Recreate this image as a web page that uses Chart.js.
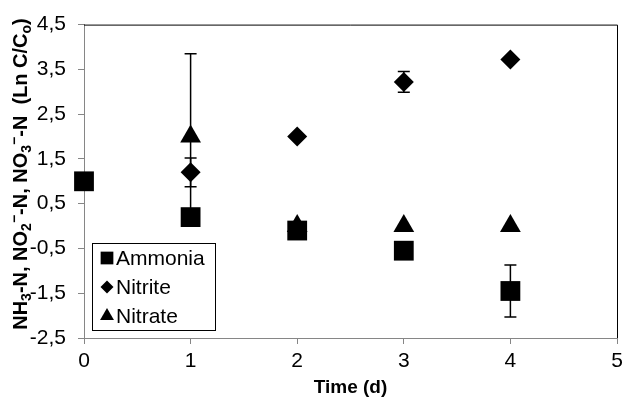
<!DOCTYPE html>
<html>
<head>
<meta charset="utf-8">
<script src="https://cdn.jsdelivr.net/npm/chart.js@4.4.1/dist/chart.umd.min.js"></script>
<style>
  html, body { margin:0; padding:0; background:#fff; }
  #wrap { width:631px; height:412px; }
</style>
</head>
<body>
<div id="wrap"><canvas id="c" width="631" height="412"></canvas></div>
<script>
/* ── DATA ── */
const days      = [0, 1, 2, 3, 4];
const ammonia   = [1.0, 0.2, -0.1, -0.55, -1.45];
const ammoniaSd = [0, 0, 0, 0, 0.58];
const nitrite   = [null, 1.2, 2.0, 3.22, 3.72];
const nitriteSd = [0, 0.32, 0, 0.23, 0];
const nitrate   = [null, 2.0, 0.0, 0.0, 0.0];
const nitrateSd = [0, 1.85, 0, 0, 0];
const xTicks    = [0, 1, 2, 3, 4, 5];
const yTicks    = [-2.5, -1.5, -0.5, 0.5, 1.5, 2.5, 3.5, 4.5];

const FONT = "'Liberation Sans', Arial, sans-serif";
Chart.defaults.font.family = FONT;

function pts(ys, sd) {
  return days.map((d, i) => ({ x:d, y:ys[i], sd:sd[i] })).filter(p => p.y !== null);
}

/* ── ERROR BARS ── */
const errorBars = {
  id: "errorBars",
  beforeDatasetsDraw(chart) {
    const { ctx, scales:{ x, y } } = chart;
    ctx.save(); ctx.strokeStyle = "#000"; ctx.lineWidth = 1.5;
    chart.data.datasets.forEach(ds => ds.data.forEach(p => {
      if (!p.sd) return;
      const px = x.getPixelForValue(p.x), t = y.getPixelForValue(p.y + p.sd), b = y.getPixelForValue(p.y - p.sd);
      ctx.beginPath();
      ctx.moveTo(px, t); ctx.lineTo(px, b);
      ctx.moveTo(px - 6, t); ctx.lineTo(px + 6, t);
      ctx.moveTo(px - 6, b); ctx.lineTo(px + 6, b);
      ctx.stroke();
    }));
    // black frame top + right
    const a = chart.chartArea;
    ctx.lineWidth = 1;
    ctx.beginPath();
    ctx.moveTo(a.left, a.top + 0.5); ctx.lineTo(a.right + 0.5, a.top + 0.5); ctx.lineTo(a.right + 0.5, a.bottom);
    ctx.stroke();
    ctx.restore();
  }
};

/* ── LEGEND (inside plot) ── */
const boxLegend = {
  id: "boxLegend",
  afterDraw(chart) {
    const ctx = chart.ctx;
    ctx.save();
    ctx.fillStyle = "#fff"; ctx.fillRect(92, 243, 123, 87);
    ctx.strokeStyle = "#000"; ctx.lineWidth = 1; ctx.strokeRect(92.5, 243.5, 123, 87);
    const rad = [9, 6.5, 8];
    chart.data.datasets.forEach((ds, i) => {
      const cy = 258 + i * 29;
      ctx.fillStyle = "#000"; ctx.strokeStyle = "#000";
      Chart.helpers.drawPoint(ctx, { pointStyle: ds.pointStyle, radius: rad[i], borderWidth: 0 }, 107, cy);
      ctx.fillStyle = "#000";
      ctx.font = "21px " + FONT; ctx.textBaseline = "middle"; ctx.textAlign = "left";
      ctx.fillText(ds.label, 116, cy + 1);
    });
    ctx.restore();
  }
};

/* ── Y TITLE (sub/superscript) ── */
const yTitle = {
  id: "yTitle",
  afterDraw(chart) {
    const ctx = chart.ctx;
    const parts = [["NH",0],["3",1],["-N, NO",0],["2",1],["\u2212",-1],["-N, NO",0],["3",1],["\u2212",-1],["-N  (Ln C/C",0],["o",1],[")",0]];
    const big = "bold 20px " + FONT, small = "bold 14px " + FONT;
    ctx.save();
    let total = 0;
    parts.forEach(p => { ctx.font = p[1] ? small : big; total += ctx.measureText(p[0]).width; });
    ctx.translate(21, 174); ctx.rotate(-Math.PI / 2);
    ctx.fillStyle = "#000"; ctx.textBaseline = "middle"; ctx.textAlign = "left";
    let cx = -total / 2;
    parts.forEach(p => {
      ctx.font = p[1] ? small : big;
      const dy = p[1] === 1 ? 6 : p[1] === -1 ? -6 : 0;
      ctx.fillText(p[0], cx, dy);
      cx += ctx.measureText(p[0]).width;
    });
    ctx.restore();
  }
};

new Chart(document.getElementById("c"), {
  type: "scatter",
  data: {
    datasets: [
      { label:"Ammonia", data: pts(ammonia, ammoniaSd), pointStyle:"rect",    radius:14, backgroundColor:"#000", borderColor:"#000", borderWidth:0, clip:false },
      { label:"Nitrite", data: pts(nitrite, nitriteSd), pointStyle:"rectRot", radius:10, backgroundColor:"#000", borderColor:"#000", borderWidth:0, clip:false },
      { label:"Nitrate", data: pts(nitrate, nitrateSd), pointStyle:"triangle",radius:12, backgroundColor:"#000", borderColor:"#000", borderWidth:0, clip:false }
    ]
  },
  options: {
    responsive:false, animation:false,
    layout: { padding:{ top:16, right:7, left:0, bottom:0 } },
    plugins: { legend:{ display:false }, tooltip:{ enabled:false } },
    scales: {
      x: { type:"linear", min:0, max:5,
        afterBuildTicks: s => { s.ticks = xTicks.map(v => ({ value:v })); },
        afterFit: s => { s.height = 74; },
        grid: { drawOnChartArea:false, tickLength:6, color:"#868686" },
        border: { color:"#868686" },
        ticks: { color:"#000", font:{ size:21 }, padding:5, callback: v => String(v) },
        title: { display:true, text:"Time (d)", color:"#000", font:{ size:19, weight:"bold" }, padding:{ top:0, bottom:13 } } },
      y: { type:"linear", min:-2.5, max:4.5,
        afterBuildTicks: s => { s.ticks = yTicks.map(v => ({ value:v })); },
        afterFit: s => { s.width = 84; },
        grid: { drawOnChartArea:false, tickLength:6, color:"#868686" },
        border: { color:"#868686" },
        ticks: { color:"#000", font:{ size:21 }, padding:12, callback: v => v.toFixed(1).replace(".", ",") } }
    }
  },
  plugins: [errorBars, boxLegend, yTitle]
});
</script>
</body>
</html>
